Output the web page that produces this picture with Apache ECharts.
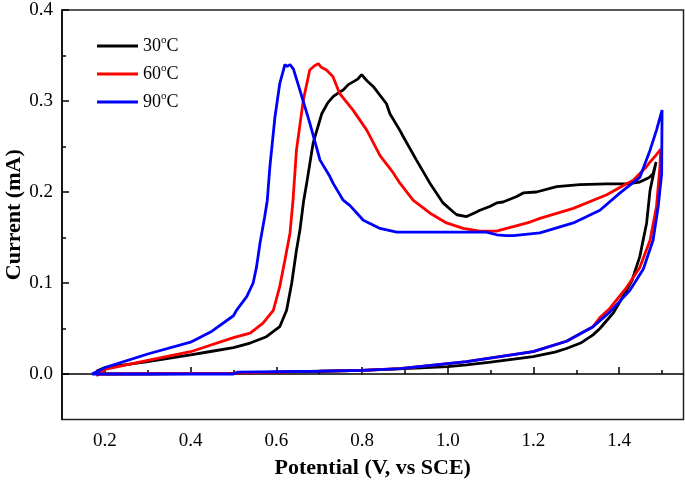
<!DOCTYPE html>
<html><head><meta charset="utf-8">
<script src="https://cdn.jsdelivr.net/npm/echarts@6/dist/echarts.min.js"></script>
<style>html,body{margin:0;padding:0;background:#fff}#c{width:685px;height:483px}</style>
</head><body><div id="c"></div>
<script>
// Tick values
const xTicks = [0.2, 0.4, 0.6, 0.8, 1.0, 1.2, 1.4];
const xMinor = [0.3, 0.5, 0.7, 0.9, 1.1, 1.3, 1.5];
const yTicks = [0.0, 0.1, 0.2, 0.3, 0.4];
const yMinor = [0.05, 0.15, 0.25, 0.35];

const seriesNames = ['30°C', '60°C', '90°C'];

// 30 °C : potential (V) and current (mA), lower branch then upper branch
const v30 = [0.18,0.30,0.50,0.60,0.70,0.80,0.90,1.00,1.044,1.10,1.199,1.25,1.277,1.31,1.339,1.355,1.386,1.40,1.417,1.430,1.448,1.464,1.472,1.486,
  1.479,1.470,1.448,1.417,1.371,1.308,1.254,1.207,1.176,1.161,1.129,1.114,1.098,1.075,1.067,1.044,1.021,1.013,0.989,0.958,0.927,0.896,0.888,0.865,0.857,0.826,0.812,0.799,0.790,0.779,0.768,0.756,0.745,0.733,0.720,0.706,0.686,0.671,0.664,0.655,0.647,0.636,0.624,0.608,0.577,0.539,0.50,0.45,0.40,0.30,0.20,0.18];
const i30 = [0.000,0.000,0.001,0.002,0.003,0.004,0.006,0.008,0.010,0.013,0.019,0.024,0.028,0.034,0.043,0.050,0.067,0.078,0.092,0.103,0.129,0.166,0.202,0.233,
  0.220,0.216,0.211,0.209,0.209,0.208,0.206,0.200,0.199,0.195,0.189,0.188,0.184,0.180,0.178,0.173,0.175,0.178,0.188,0.210,0.235,0.261,0.268,0.286,0.297,0.316,0.322,0.329,0.324,0.321,0.318,0.312,0.309,0.305,0.298,0.286,0.254,0.210,0.191,0.158,0.136,0.100,0.070,0.052,0.041,0.034,0.029,0.025,0.021,0.0135,0.007,0.003];

// 60 °C
const v60 = [0.18,0.50,0.80,0.888,1.044,1.199,1.277,1.339,1.355,1.378,1.417,1.448,1.472,1.487,1.495,1.497,
  1.485,1.472,1.464,1.433,1.417,1.371,1.293,1.215,1.192,1.153,1.137,1.114,1.075,1.036,0.997,0.958,0.919,0.888,0.873,0.842,0.811,0.779,0.748,0.732,0.717,0.705,0.698,0.690,0.678,0.663,0.647,0.639,0.632,0.620,0.608,0.593,0.569,0.539,0.50,0.40,0.30,0.20,0.18];
const i60 = [0.000,0.001,0.004,0.006,0.0135,0.0245,0.036,0.052,0.062,0.072,0.095,0.117,0.147,0.184,0.228,0.247,
  0.240,0.233,0.228,0.213,0.209,0.197,0.182,0.171,0.167,0.162,0.160,0.157,0.157,0.160,0.166,0.177,0.191,0.210,0.221,0.240,0.268,0.290,0.308,0.327,0.334,0.337,0.341,0.339,0.334,0.301,0.246,0.191,0.155,0.125,0.096,0.070,0.056,0.045,0.040,0.0245,0.015,0.005,-0.002];

// 90 °C
const v90 = [0.17,0.50,0.51,0.70,0.80,0.888,1.044,1.199,1.277,1.339,1.378,1.425,1.456,1.479,1.491,1.499,1.500,
  1.487,1.472,1.448,1.402,1.355,1.293,1.215,1.153,1.137,1.114,1.090,1.00,0.90,0.881,0.842,0.803,0.772,0.756,0.732,0.725,0.702,0.678,0.655,0.640,0.632,0.625,0.620,0.608,0.597,0.585,0.579,0.573,0.562,0.554,0.546,0.531,0.507,0.50,0.45,0.40,0.30,0.20,0.17];
const i90 = [0.000,0.000,0.002,0.003,0.004,0.006,0.0135,0.0245,0.036,0.052,0.068,0.092,0.115,0.147,0.184,0.220,0.290,
  0.268,0.246,0.216,0.199,0.180,0.166,0.155,0.152,0.152,0.153,0.156,0.156,0.156,0.156,0.160,0.169,0.185,0.191,0.210,0.217,0.235,0.276,0.312,0.335,0.340,0.338,0.340,0.319,0.283,0.228,0.191,0.173,0.144,0.118,0.100,0.085,0.070,0.064,0.047,0.035,0.022,0.007,0.000];

const colors = ['#000000', '#ff0000', '#0000ff'];
const pair = (xs, ys) => xs.map((x, k) => [x, ys[k]]);
const dataSets = [pair(v30, i30), pair(v60, i60), pair(v90, i90)];

const font = 'Liberation Serif, Times New Roman, serif';
const chart = echarts.init(document.getElementById('c'), null, {renderer: 'canvas'});

const baseX = {type: 'value', min: 0.1, max: 1.55, gridIndex: 0, position: 'bottom', splitLine: {show: false}};
const baseY = {type: 'value', min: -0.05, max: 0.4, gridIndex: 0, position: 'left', splitLine: {show: false}};

chart.setOption({
  animation: false,
  backgroundColor: '#fff',
  grid: {left: 62, right: 1.5, top: 10, bottom: 63.5, containLabel: false, outerBoundsMode: 'none',
    show: true, borderColor: '#222', borderWidth: 1.5},
  legend: {
    orient: 'vertical', left: 97, top: 35, padding: 0,
    icon: 'rect', itemWidth: 41, itemHeight: 3, itemGap: 6, itemTextGap: 10,
    data: seriesNames,
    formatter: n => n.replace('°C', '') + '{s|o}C',
    textStyle: {fontFamily: font, fontSize: 18, color: '#000', lineHeight: 22,
      rich: {s: {fontFamily: font, fontSize: 11, color: '#000', verticalAlign: 'top', lineHeight: 22, padding: [0, 0, 9, 0]}}}
  },
  xAxis: [
    Object.assign({}, baseX, {
      name: 'Potential (V, vs SCE)', nameLocation: 'middle', nameGap: 38, nameMoveOverlap: false,
      nameTextStyle: {fontFamily: font, fontSize: 22, fontWeight: 'bold', color: '#000'},
      axisLine: {lineStyle: {color: '#000', width: 1.5}},
      axisTick: {inside: true, length: 7, customValues: xTicks, lineStyle: {color: '#000', width: 1.5}},
      axisLabel: {customValues: xTicks, formatter: v => v.toFixed(1), fontFamily: font, fontSize: 19, color: '#000', margin: 12}
    }),
    Object.assign({}, baseX, {
      axisLine: {show: false},
      axisTick: {inside: true, length: 4, customValues: xMinor, lineStyle: {color: '#000', width: 1.5}},
      axisLabel: {show: false}
    })
  ],
  yAxis: [
    Object.assign({}, baseY, {
      name: 'Current (mA)', nameLocation: 'middle', nameGap: 37, nameRotate: 90, nameMoveOverlap: false,
      nameTextStyle: {fontFamily: font, fontSize: 22, fontWeight: 'bold', color: '#000'},
      axisLine: {lineStyle: {color: '#000', width: 1.5}},
      axisTick: {inside: true, length: 7, customValues: yTicks, lineStyle: {color: '#000', width: 1.5}},
      axisLabel: {customValues: yTicks, formatter: v => v.toFixed(1), fontFamily: font, fontSize: 19, color: '#000', margin: 9}
    }),
    Object.assign({}, baseY, {
      axisLine: {show: false},
      axisTick: {inside: true, length: 4, customValues: yMinor, lineStyle: {color: '#000', width: 1.5}},
      axisLabel: {show: false}
    })
  ],
  series: seriesNames.map((n, k) => ({
    name: n, type: 'line', xAxisIndex: 0, yAxisIndex: 0,
    data: dataSets[k], symbol: 'none', showSymbol: false, smooth: false, clip: true,
    itemStyle: {color: colors[k]},
    lineStyle: {color: colors[k], width: 2.8}
  }))
});
</script></body></html>
